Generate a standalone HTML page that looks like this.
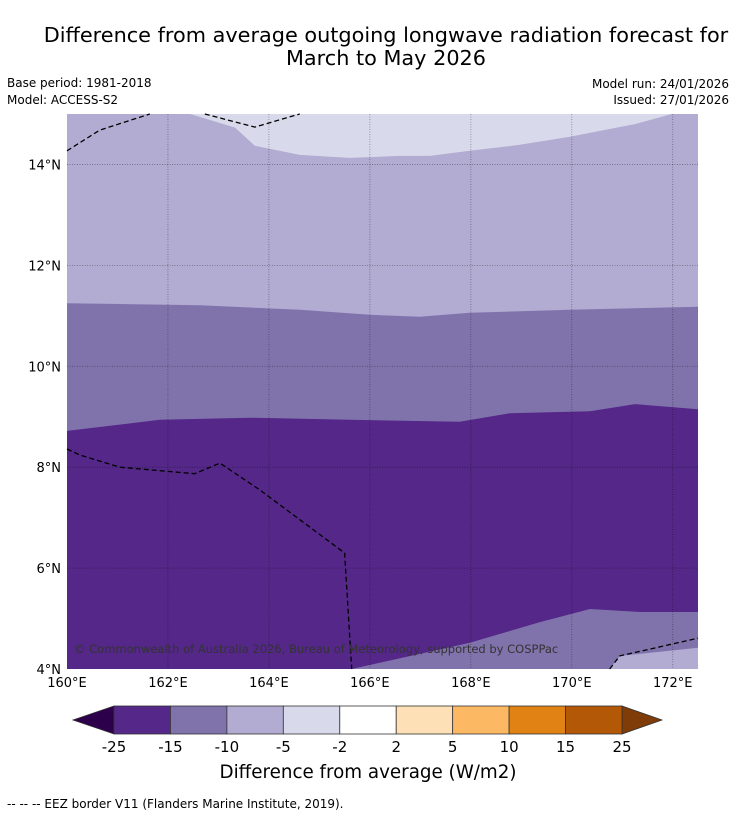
<!DOCTYPE html>
<html><head><meta charset="utf-8"><style>
body{margin:0;background:#fff;font-family:"DejaVu Sans","Liberation Sans",sans-serif;}
#wrap{position:relative;width:736px;height:816px;overflow:hidden;}
</style></head><body>
<div id="wrap">
<svg id="svg" width="736" height="816" xmlns="http://www.w3.org/2000/svg">
<text x="386" y="42" font-size="20.8" text-anchor="middle" fill="#000">Difference from average outgoing longwave radiation forecast for</text>
<text x="386" y="65" font-size="20.8" text-anchor="middle" fill="#000">March to May 2026</text>
<text x="7" y="87" font-size="12">Base period: 1981-2018</text>
<text x="7" y="104" font-size="12">Model: ACCESS-S2</text>
<text x="729" y="88" font-size="12" text-anchor="end">Model run: 24/01/2026</text>
<text x="729" y="104" font-size="12" text-anchor="end">Issued: 27/01/2026</text>
<g id="map"></g>
<g id="cbar"></g>
<text x="368" y="778" font-size="18.3" text-anchor="middle">Difference from average (W/m2)</text>
<text x="7" y="808" font-size="12">--  --  -- EEZ border V11 (Flanders Marine Institute, 2019).</text>
</svg></div>
<script>
const lonTicks=[160,162,164,166,168,170,172];
const latTicks=[4,6,8,10,12,14];
const levels=[-25,-15,-10,-5,-2,2,5,10,15,25];
const levelColors=["#542788","#8073ac","#b2abd2","#d8daeb","#ffffff","#fee0b6","#fdb863","#e08214","#b35806"];
const lowColor="#2d004b", highColor="#7f3b08";
const edgeTopLight=[[162.44,15],[163.33,14.73],[163.72,14.37],[164.61,14.19],[165.6,14.13],[166.59,14.17],[167.19,14.17],[167.98,14.27],[168.97,14.39],[169.96,14.55],[171.25,14.8],[171.98,15]];
const edgeMid=[[160,11.25],[162.63,11.21],[164.61,11.12],[166,11.02],[166.99,10.98],[167.98,11.06],[169.96,11.12],[172.5,11.18]];
const edgeDark=[[160,8.72],[161.84,8.94],[163.62,8.98],[165.6,8.94],[167.78,8.9],[168.77,9.07],[170.36,9.11],[171.25,9.25],[172.5,9.15]];
const edgeBottom=[[165.64,4],[167.98,4.52],[169.37,4.93],[170.36,5.19],[171.35,5.13],[172.5,5.13]];
const edgeBottomRight=[[170.75,4],[170.95,4.26],[172.5,4.42]];
const eezLines=[
 [[160,14.27],[160.65,14.68],[161.64,15]],
 [[162.73,15],[163.72,14.74],[164.61,15]],
 [[160,8.36],[160.26,8.24],[161.05,8.0],[162.53,7.87],[163.03,8.08],[163.82,7.55],[165.5,6.3],[165.64,4]],
 [[170.75,4],[170.95,4.26],[172.5,4.61]]
];
const NS="http://www.w3.org/2000/svg";
const X0=67,X1=698,Y0=114,Y1=669,LON0=160,LON1=172.5,LAT0=4,LAT1=15;
const sx=l=>X0+(l-LON0)/(LON1-LON0)*(X1-X0);
const sy=l=>Y1-(l-LAT0)/(LAT1-LAT0)*(Y1-Y0);
const map=document.getElementById('map');
function mk(t,a,p){const e=document.createElementNS(NS,t);for(const k in a)e.setAttribute(k,a[k]);(p||map).appendChild(e);return e;}
const pts=arr=>arr.map(p=>sx(p[0]).toFixed(1)+','+sy(p[1]).toFixed(1)).join(' ');
let e;
e=mk('rect',{x:X0,y:Y0,width:X1-X0,height:Y1-Y0,fill:levelColors[0]});

e=mk('polygon',{points:pts([[LON0,LAT1]].concat(edgeDark).concat([[LON1,LAT1]])),fill:levelColors[1]});

e=mk('polygon',{points:pts([[LON0,LAT1]].concat(edgeMid).concat([[LON1,LAT1]])),fill:levelColors[2]});

e=mk('polygon',{points:pts(edgeTopLight),fill:levelColors[3]});

e=mk('polygon',{points:pts(edgeBottom.concat([[LON1,LAT0]])),fill:levelColors[1]});

e=mk('polygon',{points:pts(edgeBottomRight.concat([[LON1,LAT0]])),fill:levelColors[2]});

lonTicks.slice(1).forEach(l=>{e=mk('line',{x1:sx(l),x2:sx(l),y1:Y0,y2:Y1,stroke:'#000','stroke-opacity':0.4,'stroke-width':0.8,'stroke-dasharray':'1,1.5'});
});
latTicks.slice(1).forEach(l=>{e=mk('line',{x1:X0,x2:X1,y1:sy(l),y2:sy(l),stroke:'#000','stroke-opacity':0.4,'stroke-width':0.8,'stroke-dasharray':'1,1.5'});
});
eezLines.forEach(L=>{e=mk('polyline',{points:pts(L),fill:'none',stroke:'#000','stroke-width':1.3,'stroke-dasharray':'5,3'});
});
e=mk('text',{x:74,y:653,'font-size':11.5,fill:'#333'});e.textContent='© Commonwealth of Australia 2026, Bureau of Meteorology, supported by COSPPac';

lonTicks.forEach(l=>{e=mk('text',{x:sx(l),y:687,'font-size':13,'text-anchor':'middle'});e.textContent=l+'°E';
});
latTicks.forEach(l=>{e=mk('text',{x:61,y:sy(l)+5,'font-size':13,'text-anchor':'end'});e.textContent=l+'°N';
});
const cb=document.getElementById('cbar');
const CX0=114,CX1=622,CY0=706,CY1=734,n=levelColors.length,w=(CX1-CX0)/n;
e=mk('polygon',{points:`${CX0},${CY0} 73,${(CY0+CY1)/2} ${CX0},${CY1}`,fill:lowColor,stroke:'#333','stroke-width':0.8},cb);

e=mk('polygon',{points:`${CX1},${CY0} 662,${(CY0+CY1)/2} ${CX1},${CY1}`,fill:highColor,stroke:'#333','stroke-width':0.8},cb);

levelColors.forEach((c,i)=>{e=mk('rect',{x:CX0+i*w,y:CY0,width:w,height:CY1-CY0,fill:c,stroke:'#333','stroke-width':0.8},cb);
});
levels.forEach((v,i)=>{e=mk('text',{x:CX0+i*w,y:752,'font-size':15,'text-anchor':'middle'},cb);e.textContent=v;
});
</script>
</body></html>
